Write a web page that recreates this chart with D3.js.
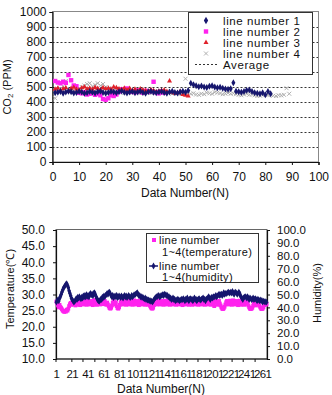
<!DOCTYPE html>
<html><head><meta charset="utf-8">
<script src="https://cdn.jsdelivr.net/npm/d3@7"></script>
<style>
html,body{margin:0;padding:0;background:#fff;}
svg{display:block;font-family:"Liberation Sans",Arial,sans-serif;}
</style></head><body>
<svg id="c" width="332" height="395"></svg>
<script>
// ---------- Top chart data (CO2 ppm by data number) ----------
const co2Line1 = [462,465,470,458,466,472,468,460,463,470,466,458,462,470,465,460,468,472,464,459,
463,470,466,461,468,473,465,460,467,470,462,466,471,464,459,468,472,465,461,467,
470,463,458,466,472,464,460,467,471,465,476,525,515,508,502,507,500,497,505,508,
500,495,498,492,486,485,488,529,472,468,465,470,478,480,470,462,458,455,462,448,470,455];
const co2Line2 = [540,530,525,535,528,580,545,510,505,462,458,465,450,455,462,448,455,445,420,415,
425,445,440,450,470,485,475,490,468,472,465,478,470,462,475,468,472,535,465,458,470,462];
const co2Line3 = [485,492,478,488,495,470,490,498,486,480,494,500,488,492,485,497,490,482,495,488,
492,486,500,495,488,484,492,480,490,478,485,472,488,480,475,470,482,476,468,472,
478,480,470,540,465,458,462,470,450,445,440];
const co2Line4 = [425,470,490,505,540,480,470,465,475,490,500,510,520,525,505,515,525,510,520,500,
490,480,470,475,465,470,460,468,475,462,470,465,458,462,470,465,460,468,472,463,
458,466,470,462,455,460,458,452,460,555,462,455,458,450,448,455,452,462,458,455,
465,462,458,452,455,460,455,458,452,448,445,450,455,448,450,445,440,442,448,446,
445,448,442,440,445,444,448,492,455];
const co2Ticks = [0,100,200,300,400,500,600,700,800,900,1000];
const dataNumTicks = [0,10,20,30,40,50,60,70,80,90,100];
const topLegend = ["line number 1","line number 2","line number 3","line number 4","Average"];

// ---------- Bottom chart data (temperature / humidity) ----------
const humidity = [44,45.5,46,45,47,48.5,50,52,53.5,55,56,57,58,58.5,57,55.5,53,51,49,47,
46,45,44,44.5,45.5,47,46,48,47,48.5,47,46.5,48,47,49,48,49.5,48,50,48.5,
49.5,48,50,51,49.5,50.5,49,51,51.5,50,48.5,47,46,45,44.5,45.5,46.5,46,48,47.5,
49,48,49.5,50,51,50,51.5,52,50.5,49,48,49.5,47.5,48.5,49,48,49.5,47.5,48,49,
48.5,47.5,49,48,47,48.5,49.5,48,49,47.5,48,49.5,48.5,47.5,48,49.5,48,49,50,49.5,
50.5,51,51.5,50,49,49.5,48,48.5,47.5,48,47,46.5,47.5,46,46.5,45.5,46,45,45.5,44.5,
45,44,45,46,47,47.5,48.5,48,49,49.5,48,48.5,49.5,49,50,49,50.5,49.5,50,49,
49.5,48,48.5,47,47.5,46,46.5,47.5,46,46.5,45,46,45.5,46.5,46,45,46,45.5,46.5,46,
47,46,45,46.5,46,47.5,46,45,46.5,47,46,46.5,45,46,47.5,46,46.5,45,46,46.5,
47,46,45.5,46.5,47,47.5,46,46.5,45,46.5,47,47.5,48.5,47,46,47.5,48,47,48.5,48,
48.5,49.5,48,49,49.5,50.5,49,50,50.5,49,50,51.5,50,51,50.5,51,51.5,52,51,51.5,
52,51,52.5,51,50,51.5,52,51,50,51,52,51,49,48,47,46,47.5,48,48.5,48,
47,48.5,47,46,47.5,47,46,46.5,47.5,46,46.5,47,46,45,46.5,46,45,46,45,45.5,
44,45,44.5,44,44.5,44];
const temperature = [27.8,27.2,26.6,26.0,26.8,26.2,25.8,25.4,25.0,24.8,24.6,24.9,24.7,25.3,25.0,25.6,26.4,27.0,27.4,26.8,
27.6,26.9,27.8,27.2,26.6,27.9,27.3,26.8,28.1,27.4,26.7,27.8,28.2,27.1,26.9,27.7,28.3,27.5,26.8,27.9,
28.2,27.4,26.9,27.8,28.0,27.2,26.7,27.6,28.3,27.8,27.0,26.8,27.7,28.1,27.3,26.9,27.8,28.2,27.6,27.0,
27.4,28.0,27.2,26.8,27.5,26.9,26.3,25.8,25.6,25.9,26.6,27.4,28.0,27.5,26.9,27.6,26.4,25.8,25.6,26.0,
26.8,27.6,28.1,27.3,26.9,27.8,28.2,27.5,26.8,27.7,28.0,27.2,26.9,27.6,28.1,27.4,26.8,27.7,28.2,27.3,
26.9,27.8,28.0,27.2,26.7,27.5,28.2,27.6,26.9,27.7,28.1,27.3,26.8,27.6,28.0,27.4,26.8,27.2,26.5,26.0,
25.7,25.6,25.9,26.7,27.4,28.0,27.3,26.9,27.8,28.2,27.5,26.9,27.7,28.0,27.2,26.8,27.6,28.1,27.4,26.9,
27.8,28.2,27.5,26.8,27.7,28.0,27.2,26.9,27.6,28.1,27.4,26.8,27.7,28.2,27.3,26.9,27.8,28.0,27.2,26.7,
27.5,28.2,27.6,26.9,27.7,28.1,27.3,26.8,27.6,28.0,27.4,26.8,27.7,28.2,27.3,26.9,27.8,28.0,27.2,26.8,
27.6,28.1,27.4,26.9,27.8,28.2,27.5,26.8,27.7,28.0,27.2,26.9,27.6,28.1,27.4,26.8,27.7,28.2,27.0,26.4,
27.8,28.2,27.5,26.8,27.7,28.0,27.2,26.6,26.0,25.6,25.5,25.7,26.2,26.9,27.6,28.0,27.2,26.9,27.6,28.1,
27.4,26.8,27.7,28.2,27.3,26.9,27.8,28.0,27.2,26.7,27.5,28.1,27.4,26.8,27.6,27.9,27.2,26.8,27.6,27.1,
27.8,27.2,26.6,26.0,25.6,25.5,25.6,25.9,26.6,27.4,27.0,26.6,27.2,27.6,26.8,27.2,26.5,26.0,25.6,25.5,
25.6,26.0,26.7,27.2,26.8,27.1];
const tempTicks = [10,15,20,25,30,35,40,45,50];
const humTicks = [0,10,20,30,40,50,60,70,80,90,100];
const catLabelStep = 20;
const catTickMarks = [0,20,34,49,63,78,92,106,121,135,150,165,179,194,208,222,236,251];
const bottomLegend = [["line number","1~4(temperature)"],["line number","1~4(humidity)"]];

// ---------- colours ----------
const NAVY = "#16166e", MAG = "#ff22ee", RED = "#e0202a", GRAY = "#a8a8a8";

const svg = d3.select("#c");

// ================= TOP CHART =================
const T = {l:52.5, r:318.5, t:11.5, b:162};
const xT = d3.scaleLinear().domain([0,100]).range([T.l,T.r]);
const yT = d3.scaleLinear().domain([0,1000]).range([T.b,T.t+0.5]);
const gT = svg.append("g");

gT.selectAll("line.grid").data(co2Ticks.filter(v=>v>0 && v<1000)).join("line")
  .attr("x1",T.l).attr("x2",T.r).attr("y1",d=>Math.round(yT(d))+0.5).attr("y2",d=>Math.round(yT(d))+0.5)
  .attr("stroke","#333").attr("stroke-width",1).attr("stroke-dasharray","2,2");
gT.append("rect").attr("x",T.l).attr("y",T.t).attr("width",T.r-T.l).attr("height",T.b-T.t)
  .attr("fill","none").attr("stroke","#888").attr("stroke-width",1);

const axLT = d3.axisLeft(yT).tickValues(co2Ticks).tickFormat(d3.format("d")).tickSize(3).tickPadding(3);
const axBT = d3.axisBottom(xT).tickValues(dataNumTicks).tickFormat(d3.format("d")).tickSize(3).tickPadding(7);
const gyT = gT.append("g").attr("transform",`translate(${T.l},0)`).call(axLT);
const gxT = gT.append("g").attr("transform",`translate(0,${T.b})`).call(axBT);
[gyT,gxT].forEach(g=>{g.select(".domain").attr("stroke","#111").attr("stroke-width",1.2);
  g.selectAll("line").attr("stroke","#111");
  g.selectAll("text").attr("font-size",12).attr("fill","#111").attr("font-family","Liberation Sans, Arial, sans-serif");});

gT.append("text").attr("x",185).attr("y",197).attr("text-anchor","middle")
  .attr("font-size",12).attr("fill","#111").text("Data Number(N)");
const co2t = gT.append("text").attr("transform","translate(11,87) rotate(-90)").attr("text-anchor","middle")
  .attr("font-size",11).attr("fill","#111");
co2t.append("tspan").text("CO");
co2t.append("tspan").attr("font-size",8).attr("dy",2).text("2");
co2t.append("tspan").attr("dy",-2).text(" (PPM)");

function diamond(g,data,x,y,color,s){
  g.selectAll(null).data(data).join("path")
   .attr("d",d3.symbol(d3.symbolDiamond,s)())
   .attr("transform",(d,i)=>`translate(${x(i+1)},${y(d)})`).attr("fill",color);
}
const pts = gT.append("g");
pts.append("g").selectAll("path").data(co2Line4).join("path")
  .attr("d","M-2,-2L2,2M-2,2L2,-2").attr("stroke",GRAY).attr("stroke-width",0.9).attr("fill","none")
  .attr("transform",(d,i)=>`translate(${xT(i+1)},${yT(d)})`);
pts.append("g").selectAll("rect").data(co2Line2).join("rect")
  .attr("x",(d,i)=>xT(i+1)-2.2).attr("y",d=>yT(d)-2.2).attr("width",4.4).attr("height",4.4).attr("fill",MAG);
pts.append("g").selectAll("path").data(co2Line3).join("path")
  .attr("d",d3.symbol(d3.symbolTriangle,11)()).attr("fill",RED)
  .attr("transform",(d,i)=>`translate(${xT(i+1)},${yT(d)})`);
diamond(pts.append("g"),co2Line1,xT,yT,NAVY,14);

// legend
const lg = gT.append("g");
lg.append("rect").attr("x",188.5).attr("y",12.5).attr("width",124).attr("height",62)
  .attr("fill","#fff").attr("stroke","#333").attr("stroke-width",1);
const ly = [20.5,31.5,42.5,53.5,64.5];
lg.append("path").attr("d",d3.symbol(d3.symbolDiamond,16)()).attr("fill",NAVY).attr("transform",`translate(206,${ly[0]})`);
lg.append("rect").attr("x",203.8).attr("y",ly[1]-2.2).attr("width",4.4).attr("height",4.4).attr("fill",MAG);
lg.append("path").attr("d",d3.symbol(d3.symbolTriangle,11)()).attr("fill",RED).attr("transform",`translate(206,${ly[2]})`);
lg.append("path").attr("d","M-2,-2L2,2M-2,2L2,-2").attr("stroke",GRAY).attr("stroke-width",0.9).attr("transform",`translate(206,${ly[3]})`);
lg.append("line").attr("x1",195).attr("x2",219).attr("y1",ly[4]).attr("y2",ly[4])
  .attr("stroke","#333").attr("stroke-dasharray","2,2");
lg.selectAll("text").data(topLegend).join("text").attr("x",223).attr("y",(d,i)=>ly[i]+4)
  .attr("font-size",11.5).attr("letter-spacing",0.6).attr("fill","#111").text(d=>d);

// ================= BOTTOM CHART =================
const B = {l:56, r:267, t:229, b:359};
const cats = d3.range(1, humidity.length+1);
const xB = d3.scalePoint().domain(cats).range([B.l,B.r]).padding(0.5);
const bw = xB.step();
const yTemp = d3.scaleLinear().domain([10,50]).range([B.b,B.t+1]);
const yHum = d3.scaleLinear().domain([0,100]).range([B.b,B.t+1]);
const gB = svg.append("g");
gB.append("rect").attr("x",B.l).attr("y",B.t+0.5).attr("width",B.r-B.l).attr("height",B.b-B.t-0.5)
  .attr("fill","none").attr("stroke","#666").attr("stroke-width",1);

const axL = d3.axisLeft(yTemp).tickValues(tempTicks).tickFormat(d3.format(".1f")).tickSize(3).tickPadding(8);
const axR = d3.axisRight(yHum).tickValues(humTicks).tickFormat(d3.format(".1f")).tickSize(3).tickPadding(7);
const gL = gB.append("g").attr("transform",`translate(${B.l},0)`).call(axL);
const gR = gB.append("g").attr("transform",`translate(${B.r},0)`).call(axR);
[gL,gR].forEach(g=>{g.select(".domain").attr("stroke","#111").attr("stroke-width",1.2);
  g.selectAll("line").attr("stroke","#111");
  g.selectAll("text").attr("font-size",12).attr("fill","#111").attr("font-family","Liberation Sans, Arial, sans-serif");});
gR.selectAll("text").attr("font-size",11.5);

const gX = gB.append("g");
gX.append("line").attr("x1",B.l).attr("x2",B.r).attr("y1",B.b).attr("y2",B.b).attr("stroke","#111").attr("stroke-width",1.2);
gX.selectAll("line.tk").data(catTickMarks).join("line").attr("class","tk")
  .attr("x1",d=>B.l+d*bw).attr("x2",d=>B.l+d*bw).attr("y1",B.b).attr("y2",B.b+3).attr("stroke","#111");
gX.selectAll("text").data(cats.filter(c=>(c-1)%catLabelStep===0)).join("text")
  .attr("x",d=>xB(d)).attr("y",378).attr("text-anchor","middle").attr("font-size",11.5)
  .attr("letter-spacing",-0.6).attr("fill","#111").text(d=>d);

gB.append("text").attr("x",161).attr("y",393).attr("text-anchor","middle").attr("font-size",12).attr("fill","#111").text("Data Number(N)");
gB.append("text").attr("transform","translate(14,289) rotate(-90)").attr("text-anchor","middle")
  .attr("font-size",11).attr("fill","#111").text("Temperature(℃)");
gB.append("text").attr("transform","translate(321,293) rotate(-90)").attr("text-anchor","middle")
  .attr("font-size",11).attr("fill","#111").text("Humidity(%)");

gB.append("g").selectAll("rect").data(temperature).join("rect")
  .attr("x",(d,i)=>xB(i+1)-1.9).attr("y",d=>yTemp(d)-1.9).attr("width",3.8).attr("height",3.8).attr("fill",MAG);
gB.append("path").datum(humidity).attr("fill","none").attr("stroke",NAVY).attr("stroke-width",2)
  .attr("d",d3.line().x((d,i)=>xB(i+1)).y(d=>yHum(d)));
diamond(gB.append("g"),humidity,xB,yHum,NAVY,12);

// bottom legend
const lb = gB.append("g");
lb.append("rect").attr("x",146.5).attr("y",233.5).attr("width",112).attr("height",49)
  .attr("fill","#fff").attr("stroke","#333").attr("stroke-width",1);
lb.append("rect").attr("x",152).attr("y",238).attr("width",4).attr("height",4).attr("fill",MAG);
lb.append("line").attr("x1",149).attr("x2",158).attr("y1",266).attr("y2",266).attr("stroke",NAVY).attr("stroke-width",1.5);
lb.append("path").attr("d",d3.symbol(d3.symbolDiamond,14)()).attr("fill",NAVY).attr("transform","translate(153.5,266)");
const lbY = [[244,255.5],[269.5,281]];
bottomLegend.forEach((pair,i)=>{
  lb.append("text").attr("x",159).attr("y",lbY[i][0]).attr("font-size",11).attr("letter-spacing",0.3).attr("fill","#111").text(pair[0]);
  lb.append("text").attr("x",162).attr("y",lbY[i][1]).attr("font-size",11).attr("letter-spacing",0.3).attr("fill","#111").text(pair[1]);
});
</script>
</body></html>
